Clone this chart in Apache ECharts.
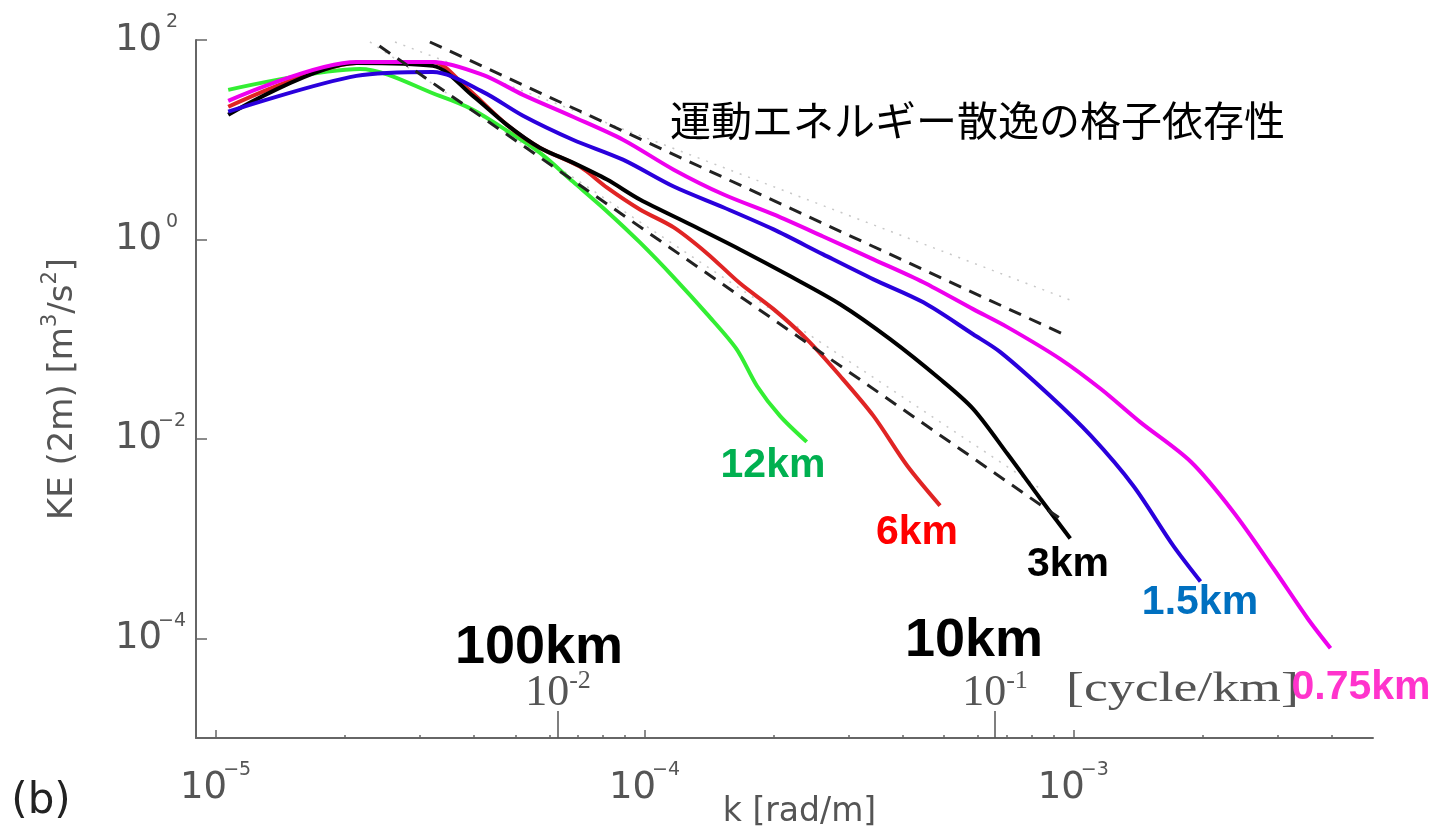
<!DOCTYPE html>
<html>
<head>
<meta charset="utf-8">
<script src="https://cdn.jsdelivr.net/npm/echarts@6.0.0/dist/echarts.min.js"></script>
<style>
  html, body { margin: 0; padding: 0; background: #fff; }
  #main { width: 1433px; height: 831px; }
</style>
</head>
<body>
<div id="main"></div>
<script>
// k [rad/m] and KE(2m) [m3/s2], one pair of arrays per run
const k12 = [1.07e-5, 2.17e-5, 3.33e-5, 3.98e-5, 4.78e-5, 5.70e-5, 6.81e-5, 8.18e-5, 9.76e-5, 1.17e-4, 1.40e-4, 1.64e-4, 1.83e-4, 2.07e-4, 2.39e-4];
const ke12 = [31.6, 51.3, 27.5, 20.0, 12.3, 7.41, 3.80, 1.91, 0.933, 0.417, 0.178, 0.0794, 0.0339, 0.0170, 0.00933];

const k6 = [1.07e-5, 2.13e-5, 3.21e-5, 3.85e-5, 4.78e-5, 5.70e-5, 7.07e-5, 8.18e-5, 9.76e-5, 1.17e-4, 1.40e-4, 1.67e-4, 2.00e-4, 2.39e-4, 2.86e-4, 3.42e-4, 4.10e-4, 4.89e-4];
const ke6 = [21.4, 58.9, 60.3, 33.1, 14.1, 8.32, 5.37, 3.31, 2.00, 1.32, 0.724, 0.363, 0.200, 0.100, 0.0427, 0.0170, 0.00537, 0.00214];

const k3 = [1.07e-5, 2.13e-5, 3.21e-5, 3.98e-5, 4.78e-5, 5.70e-5, 6.81e-5, 8.18e-5, 9.76e-5, 1.28e-4, 1.67e-4, 2.19e-4, 2.86e-4, 3.74e-4, 4.89e-4, 5.84e-4, 7.02e-4, 8.38e-4, 9.84e-4];
const ke3 = [17.8, 58.9, 55.0, 27.5, 14.1, 8.32, 5.89, 3.98, 2.51, 1.41, 0.794, 0.427, 0.224, 0.100, 0.0398, 0.0200, 0.00708, 0.00251, 0.00100];

const k15 = [1.07e-5, 2.13e-5, 3.21e-5, 4.20e-5, 5.21e-5, 6.81e-5, 8.91e-5, 1.17e-4, 1.53e-4, 2.00e-4, 2.61e-4, 3.42e-4, 4.47e-4, 5.84e-4, 6.76e-4, 8.84e-4, 1.10e-3, 1.38e-3, 1.71e-3, 1.98e-3];
const ke15 = [19.1, 43.7, 47.9, 30.2, 17.4, 10.0, 6.31, 3.39, 2.09, 1.26, 0.708, 0.398, 0.234, 0.112, 0.0741, 0.0269, 0.0107, 0.00339, 0.000851, 0.000372];

const k075 = [1.07e-5, 2.13e-5, 3.21e-5, 4.20e-5, 5.21e-5, 6.81e-5, 8.91e-5, 1.17e-4, 1.53e-4, 2.00e-4, 2.61e-4, 3.42e-4, 4.47e-4, 5.84e-4, 7.02e-4, 9.33e-4, 1.16e-3, 1.43e-3, 1.88e-3, 2.36e-3, 2.93e-3, 3.52e-3, 3.98e-3];
const ke075 = [24.5, 60.3, 60.3, 44.7, 28.2, 17.0, 10.0, 5.01, 2.82, 1.78, 1.07, 0.631, 0.372, 0.200, 0.132, 0.0631, 0.0316, 0.0148, 0.00589, 0.00186, 0.000501, 0.000158, 0.0000794];

// guide lines (end points)
const kSlope2 = [3.16e-5, 9.48e-4];   const eSlope2 = [95.5, 0.112];
const kSlope3 = [2.41e-5, 9.48e-4];   const eSlope3 = [87.1, 0.00151];
const kSlope53 = [2.62e-5, 1.0e-3];   const eSlope53 = [95.5, 0.240];
const kDot3 = [2.29e-5, 8.38e-4];     const eDot3 = [95.5, 0.00316];

// axes
const kMin = 9e-6, kMax = 5e-3;
const keMin = 1e-5, keMax = 1e2;
const kTicks = [1e-5, 1e-4, 1e-3];
const kMinorTicks = [2e-5, 3e-5, 4e-5, 5e-5, 6e-5, 7e-5, 8e-5, 9e-5, 2e-4, 3e-4, 4e-4, 5e-4, 6e-4, 7e-4, 8e-4, 9e-4, 2e-3, 3e-3, 4e-3];
const keTicks = [1e-4, 1e-2, 1, 1e2];
// overlaid wavelength scale, cycle/km (its ends)
const cycMin = 1.484e-3, cycMax = 0.733;
const cycTicks = [0.01, 0.1];

const runNames = ['12km', '6km', '3km', '1.5km', '0.75km'];
const runColors = ['#33ee33', '#e02424', '#000000', '#2a00dc', '#ee00ee'];
const labelColors = ['#00b050', '#ff0000', '#000000', '#0070c0', '#ff33cc'];

function zip(a, b) {
  return a.map((v, i) => [v, b[i]]);
}

function powLabel(v) {
  const e = Math.round(Math.log10(v));
  return '{b|10}{e|' + (e < 0 ? '\u2212' + (-e) : e) + '}';
}

function cycLabel(v) {
  const e = Math.round(Math.log10(v));
  return '{b|10}{e|' + e + '}';
}

const gray = '#555';
const tickRich = {
  b: { fontSize: 37, fontFamily: 'DejaVu Sans', color: gray, lineHeight: 54, verticalAlign: 'middle' },
  e: { fontSize: 19, fontFamily: 'DejaVu Sans', color: gray, lineHeight: 20, verticalAlign: 'top', padding: [0, 0, 0, -4] }
};
const yRich = {
  b: tickRich.b,
  e: Object.assign({}, tickRich.e, { width: 28, align: 'left' })
};

const chart = echarts.init(document.getElementById('main'));

const runs = [[k12, ke12], [k6, ke6], [k3, ke3], [k15, ke15], [k075, ke075]];
const series = runs.map((r, i) => ({
  name: runNames[i],
  type: 'line',
  xAxisIndex: 0,
  data: zip(r[0], r[1]),
  showSymbol: false,
  smooth: 0.3,
  lineStyle: { color: runColors[i], width: 4 },
  z: 3
}));

series.push(
  { type: 'line', data: zip(kSlope53, eSlope53), showSymbol: false, lineStyle: { color: '#c8c8c8', width: 1.5, type: [2, 7] }, z: 2 },
  { type: 'line', data: zip(kDot3, eDot3), showSymbol: false, lineStyle: { color: '#c8c8c8', width: 1.5, type: [2, 7] }, z: 2 },
  { type: 'line', data: zip(kSlope2, eSlope2), showSymbol: false, lineStyle: { color: '#222', width: 3, type: [13, 9] }, z: 4 },
  { type: 'line', data: zip(kSlope3, eSlope3), showSymbol: false, lineStyle: { color: '#222', width: 3, type: [13, 9] }, z: 4 }
);

const labelPos = [[773, 466], [917, 533], [1068, 565], [1200, 603], [1361, 688]];

const graphics = runNames.map((n, i) => ({
  type: 'text',
  x: labelPos[i][0],
  y: labelPos[i][1],
  z: 10,
  style: { text: n, fill: labelColors[i], font: 'bold 41px "Liberation Sans", Arial, sans-serif', align: 'center', verticalAlign: 'middle' }
}));
graphics.push(
  { type: 'text', x: 539, y: 648, z: 10, style: { text: '100km', fill: '#000', font: 'bold 54px "Liberation Sans", Arial, sans-serif', align: 'center', verticalAlign: 'middle' } },
  { type: 'text', x: 974, y: 641, z: 10, style: { text: '10km', fill: '#000', font: 'bold 54px "Liberation Sans", Arial, sans-serif', align: 'center', verticalAlign: 'middle' } },
  { type: 'text', x: 1066, y: 690, scaleX: 1.28, z: 9, style: { text: '[cycle/km]', fill: gray, font: '42px "Liberation Serif", serif', align: 'left', verticalAlign: 'middle' } },
  { type: 'text', x: 41, y: 802, z: 10, style: { text: '(b)', fill: '#222', font: '42px "DejaVu Sans", sans-serif', align: 'center', verticalAlign: 'middle' } }
);

const option = {
  backgroundColor: '#fff',
  animation: false,
  title: {
    text: '運動エネルギー散逸の格子依存性',
    left: 665,
    top: 95,
    textStyle: { fontSize: 41, fontWeight: 'normal', color: '#000', fontFamily: '"Noto Sans CJK JP", "Noto Sans CJK SC", sans-serif' }
  },
  grid: { left: 196, top: 40, right: 60, bottom: 93, containLabel: false, outerBoundsMode: 'none' },
  xAxis: [
    {
      type: 'log', position: 'bottom', min: kMin, max: kMax,
      name: 'k [rad/m]', nameLocation: 'middle', nameGap: 58, nameMoveOverlap: false,
      nameTextStyle: { fontSize: 33, fontFamily: 'DejaVu Sans', color: gray, padding: [0, 0, 0, 30] },
      axisLine: { lineStyle: { color: '#666', width: 2 } },
      axisTick: { inside: true, length: 8, customValues: kTicks, lineStyle: { color: '#666', width: 1.5 } },
      axisLabel: { customValues: kTicks, margin: 23, formatter: powLabel, rich: tickRich },
      splitLine: { show: false }, minorTick: { show: false }
    },
    {
      type: 'log', position: 'bottom', offset: 0, min: kMin, max: kMax,
      axisLine: { show: false },
      axisTick: { inside: true, length: 3, customValues: kMinorTicks, lineStyle: { color: '#666', width: 1.5 } },
      axisLabel: { show: false },
      splitLine: { show: false }
    },
    {
      type: 'log', position: 'bottom', offset: 0, min: cycMin, max: cycMax,
      axisLine: { show: false },
      axisTick: { inside: true, length: 27, customValues: cycTicks, lineStyle: { color: '#555', width: 1.5 } },
      axisLabel: {
        inside: true, margin: 20, customValues: cycTicks, formatter: cycLabel,
        rich: {
          b: { fontSize: 44, fontFamily: '"Liberation Serif", serif', color: gray, lineHeight: 50, verticalAlign: 'middle' },
          e: { fontSize: 26, fontFamily: '"Liberation Serif", serif', color: gray, lineHeight: 26, verticalAlign: 'top' }
        }
      },
      splitLine: { show: false }
    }
  ],
  yAxis: {
    type: 'log', min: keMin, max: keMax,
    name: '{t|KE (2m) [m}{s|3}{t|/s}{s|2}{t|]}', nameLocation: 'middle', nameGap: 110, nameMoveOverlap: false,
    nameTextStyle: {
      rich: {
        t: { fontSize: 34, fontFamily: 'DejaVu Sans', color: gray, lineHeight: 46, verticalAlign: 'middle' },
        s: { fontSize: 21, fontFamily: 'DejaVu Sans', color: gray, lineHeight: 21, verticalAlign: 'top' }
      }
    },
    axisLine: { lineStyle: { color: '#666', width: 2 } },
    axisTick: { inside: true, length: 11, customValues: keTicks, lineStyle: { color: '#666', width: 1.5 } },
    axisLabel: { customValues: keTicks, margin: 10, formatter: powLabel, rich: yRich },
    splitLine: { show: false }
  },
  graphic: graphics,
  series: series
};

chart.setOption(option);
</script>
</body>
</html>
